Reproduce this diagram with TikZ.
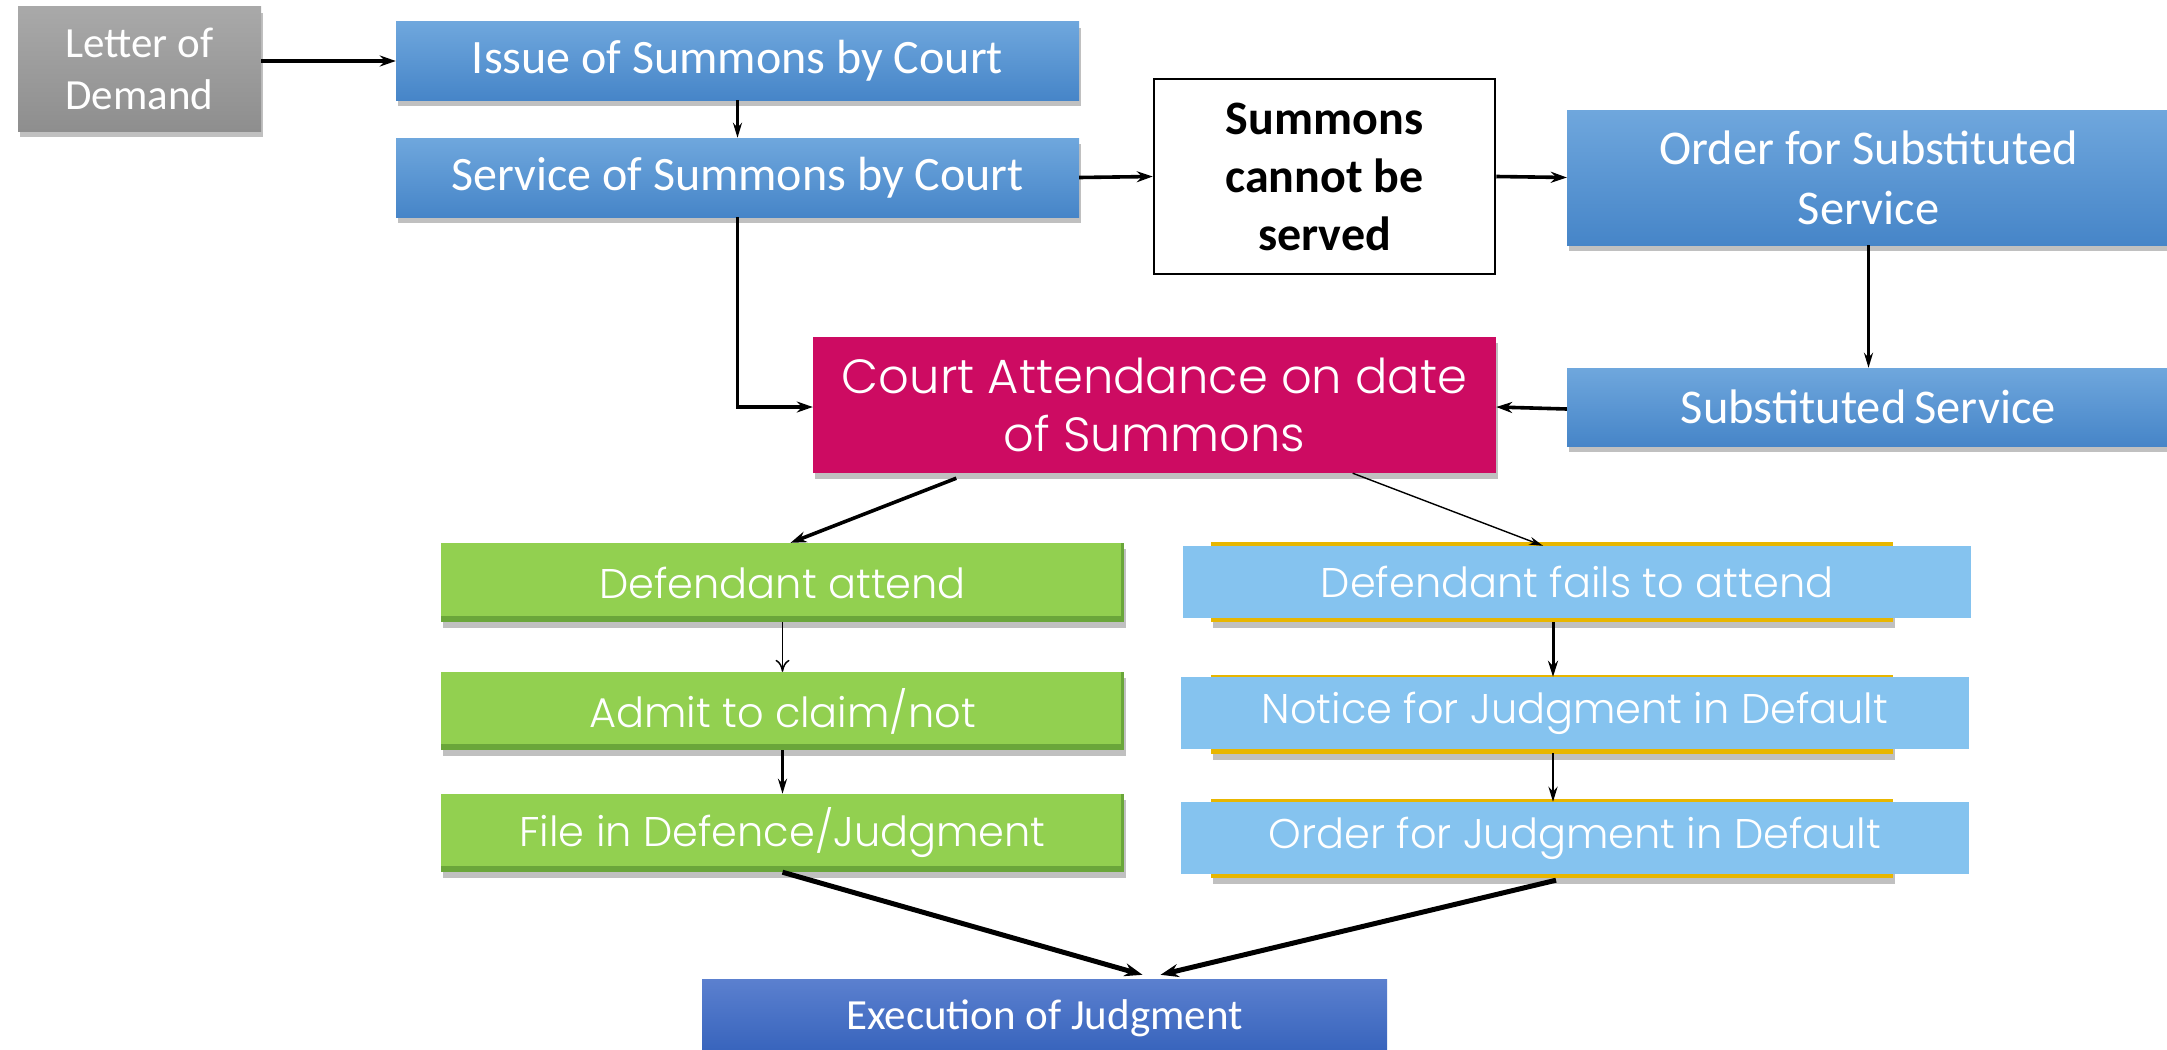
\documentclass[tikz,border=0pt]{standalone}
\usepackage{fontspec}
\setmainfont{Carlito}
\newfontfamily\gothic[UprightFont=* Light]{Poppins}
\usetikzlibrary{arrows.meta,shadows,calc}
\definecolor{blueT}{HTML}{6FA7DD}
\definecolor{blueB}{HTML}{4685C8}
\definecolor{grayT}{HTML}{A9A9A9}
\definecolor{grayB}{HTML}{8E8E8E}
\definecolor{magentaC}{HTML}{CD0B62}
\definecolor{greenL}{HTML}{92D050}
\definecolor{greenD}{HTML}{6AA63A}
\definecolor{lightB}{HTML}{85C3EF}
\definecolor{goldC}{HTML}{E8B600}
\definecolor{execT}{HTML}{5B80CF}
\definecolor{execB}{HTML}{2F5DB8}
\tikzset{
  shad/.style={drop shadow={shadow xshift=2pt, shadow yshift=-6pt, opacity=0.35, fill=black!70}},
  bluebox/.style={shad, top color=blueT, bottom color=blueB, text=white, align=center, inner sep=0pt,
     font=\fontsize{48}{56}\selectfont},
  graybox/.style={shad, top color=grayT, bottom color=grayB, text=white, align=center, inner sep=0pt,
     font=\fontsize{43}{52}\selectfont},
  plainbox/.style={draw=black, line width=2.5pt, fill=white, align=center, inner sep=0pt,
     font=\fontsize{48}{58}\selectfont\bfseries},
  magbox/.style={shad, fill=magentaC, text=white, align=center, inner sep=0pt,
     font=\gothic\fontsize{48}{58}\selectfont},
  greenbox/.style={shad, fill=greenD, text=white, align=center, inner sep=0pt,
     font=\gothic\fontsize{41.5}{48}\selectfont,
     path picture={\fill[greenL] (path picture bounding box.north west) rectangle ([xshift=-3pt,yshift=6pt]path picture bounding box.south east);}},
  ltbox/.style={fill=lightB, text=white, align=center, inner sep=0pt,
     font=\gothic\fontsize{41.5}{48}\selectfont},
  execbox/.style={top color=execT, bottom color=execB, text=white, align=center, inner sep=0pt},
  arr/.style={-{Stealth[length=16pt,width=11pt]}, line width=3.6pt},
  thinarr/.style={-{Stealth[length=14pt,width=8pt]}, line width=1.4pt},
  openarr/.style={-{To[length=12pt,width=14pt]}, line width=1.5pt},
  medarr/.style={-{Stealth[length=15pt,width=9pt]}, line width=2.6pt},
  bigarr/.style={-{Stealth[length=18pt,width=13pt]}, line width=5pt},
}
\begin{document}
\begin{tikzpicture}[x=1pt,y=-1pt]
\useasboundingbox (0,0) rectangle (2167,1049);
\clip (0,0) rectangle (2167,1049);
\fill[white] (0,0) rectangle (2167,1049);

% top nodes
\node[graybox, minimum width=243pt, minimum height=124pt] (letter) at (139.5,69) {Letter of\\Demand};
\node[bluebox, minimum width=683pt, minimum height=78pt] (issue) at (737.5,61) {Issue of Summons by Court};
\node[bluebox, minimum width=683pt, minimum height=79pt] (service) at (737.5,177.5) {Service of Summons by Court};
\node[plainbox, minimum width=341pt, minimum height=195pt] (cannot) at (1324.5,176.5) {Summons\\cannot be\\served};
\node[bluebox, minimum width=603pt, minimum height=135pt, font=\fontsize{48.5}{60}\selectfont] (order) at (1868.5,177.5) {Order for Substituted\\Service};
\node[bluebox, minimum width=603pt, minimum height=78pt, font=\fontsize{48.5}{56}\selectfont] (subst) at (1868.5,407) {Substituted\,Service};
\node[magbox, minimum width=683pt, minimum height=136pt] (court) at (1154.5,405) {Court Attendance on date\\of Summons};

% green column
\node[greenbox, minimum width=683pt, minimum height=79pt] (defatt) at (782.5,582.5) {Defendant attend};
\node[greenbox, minimum width=683pt, minimum height=78pt] (admit) at (782.5,711) {Admit to claim/not};
\node[greenbox, minimum width=683pt, minimum height=78pt] (file) at (782.5,833) {File in Defence/Judgment};

% gold strips behind light blue boxes
\fill[shad, goldC] (1211,542) rectangle (1893,622);
\fill[shad, goldC] (1211,675) rectangle (1893,754);
\fill[shad, goldC] (1211,799) rectangle (1893,878);
\node[ltbox, minimum width=788pt, minimum height=72pt] (fails) at (1577,582) {Defendant fails to attend};
\node[ltbox, minimum width=788pt, minimum height=72pt] (notice) at (1575,713) {Notice for Judgment in Default};
\node[ltbox, minimum width=788pt, minimum height=72pt] (orderj) at (1575,838) {Order for Judgment in Default};

\node[execbox, minimum width=685pt, minimum height=90pt] (exec) at (1044.5,1024) {};
\node[text=white, font=\fontsize{43}{50}\selectfont] (execlabel) at (1044.5,1018) {Execution of Judgment};

% connectors
\draw[arr] (letter.east |- issue) -- (issue.west);
\draw[medarr] (issue.south) -- (service.north);
\draw[arr] (service.east) -- (cannot.west);
\draw[arr] (cannot.east) -- (order.west);
\draw[medarr] (order.south) -- (subst.north);
\draw[arr] ([yshift=-2pt]subst.west) -- ([yshift=-2pt]court.east);
\draw[arr] (service.south) |- ([yshift=-2pt]court.west);
\draw[arr] ($(court.south west)!0.21!(court.south east)+(0,5)$) -- ([xshift=8pt]defatt.north);
\draw[thinarr] ($(court.south west)!0.79!(court.south east)$) -- ([xshift=-34pt]fails.north);
\draw[openarr] (defatt.south) -- (admit.north);
\draw[medarr] (admit.south) -- (file.north);
\draw[-{Stealth[length=16pt,width=10pt]}, line width=3pt] ([xshift=-24pt,yshift=-4pt]fails.south) -- ([xshift=-22pt]notice.north);
\draw[medarr] ([xshift=-22pt,yshift=-4pt]notice.south) -- ([xshift=-22pt]orderj.north);
\draw[bigarr] (file.south) -- ([xshift=98pt,yshift=4pt]exec.north);
\draw[bigarr] ([xshift=-19pt,yshift=-6pt]orderj.south) -- ([xshift=116pt,yshift=4pt]exec.north);
\end{tikzpicture}
\end{document}
